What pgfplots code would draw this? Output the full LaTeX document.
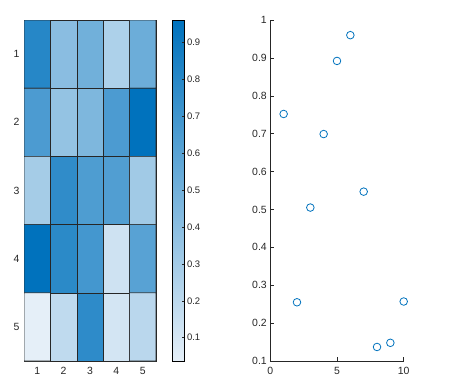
\documentclass[border=0pt]{standalone}
\usepackage{fontspec}
\setmainfont{Liberation Sans}
\usepackage{pgfplots}
\pgfplotsset{compat=1.18}
\definecolor{mblue}{RGB}{0,114,189}
\definecolor{axgray}{gray}{0.15}
\pgfplotstableread{
x y c
1 1 0.80
2 1 0.40
3 1 0.50
4 1 0.26
5 1 0.52
1 2 0.65
2 2 0.36
3 2 0.45
4 2 0.65
5 2 0.955
1 3 0.295
2 3 0.76
3 3 0.64
4 3 0.63
5 3 0.31
1 4 0.96
2 4 0.78
3 4 0.68
4 4 0.13
5 4 0.60
1 5 0.037
2 5 0.19
3 5 0.77
4 5 0.11
5 5 0.21
}\heatdata
\pgfplotstableread{
x y
1 0.752
2 0.255
3 0.505
4 0.699
5 0.892
6 0.960
7 0.547
8 0.137
9 0.148
10 0.257
}\scatterdata
\begin{document}
\begin{tikzpicture}
\useasboundingbox (0,0) rectangle (454bp,389bp);
\begin{axis}[
  at={(24bp,28bp)}, anchor=south west, scale only axis,
  width=132bp, height=341bp,
  xmin=0.5, xmax=5.5, ymin=0.5, ymax=5.5, y dir=reverse,
  xtick={1,2,3,4,5}, ytick={1,2,3,4,5},
  major tick length=0pt,
  axis line style={axgray, line width=0.6pt},
  tick label style={font=\fontsize{10.5}{12}\selectfont, text=axgray},
  xticklabel style={yshift=-3bp},
  yticklabel style={xshift=-1bp},
  /pgf/number format/assume math mode=true,
  colormap={mblues}{rgb255=(229,239,248) rgb255=(0,114,189)},
  point meta min=0.037, point meta max=0.960,
  colorbar,
  colorbar style={
    at={(parent axis.north east)}, anchor=north west, xshift=8bp,
    width=12bp,
    ytick={0.1,0.2,0.3,0.4,0.5,0.6,0.7,0.8,0.9},
    yticklabels={0.1,0.2,0.3,0.4,0.5,0.6,0.7,0.8,0.9},
    ytick pos=right, yticklabel pos=right, tick align=inside,
    major tick length=2.5bp,
    axis line style={black, line width=0.6pt},
    tick style={axgray, line width=0.5pt},
    yticklabel style={font=\fontsize{9.5}{11}\selectfont, text=axgray, xshift=-1bp},
  },
]
\addplot[matrix plot*, mesh/cols=5, point meta=explicit, shader=faceted, faceted color=black!85, line width=0.6pt] table[x=x, y=y, meta=c] {\heatdata};
\end{axis}
\begin{axis}[
  at={(270.3bp,28bp)}, anchor=south west, scale only axis,
  width=133.4bp, height=341bp,
  xmin=0, xmax=10, ymin=0.1, ymax=1,
  axis lines*=left,
  xtick={0,5,10}, ytick={0.1,0.2,0.3,0.4,0.5,0.6,0.7,0.8,0.9,1},
  yticklabels={0.1,0.2,0.3,0.4,0.5,0.6,0.7,0.8,0.9,1},
  tick align=inside, major tick length=3.5bp,
  axis line style={axgray, line width=0.6pt},
  tick style={axgray, line width=0.5pt},
  tick label style={font=\fontsize{10.5}{12}\selectfont, text=axgray},
  xticklabel style={yshift=-3bp},
  /pgf/number format/assume math mode=true,
  clip=false,
]
\addplot[only marks, mark=o, mark size=3.8bp, mblue, line width=0.8pt] table[x=x, y=y] {\scatterdata};
\end{axis}
\end{tikzpicture}
\end{document}
